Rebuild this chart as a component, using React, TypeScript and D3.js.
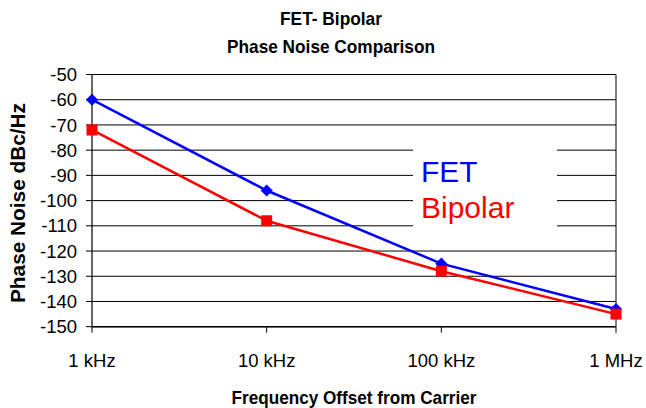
import React from "react";
import * as d3 from "d3";

const categories = ["1 kHz", "10 kHz", "100 kHz", "1 MHz"];
const fetValues = [-60, -96, -125, -143];
const bipolarValues = [-72, -108, -128, -145];
const yTicks = [-50, -60, -70, -80, -90, -100, -110, -120, -130, -140, -150];
const titleLines = ["FET- Bipolar", "Phase Noise Comparison"];
const xTitle = "Frequency Offset from Carrier";
const yTitle = "Phase Noise dBc/Hz";
const seriesNames = ["FET", "Bipolar"];

const W = 646;
const H = 408;
const FONT = "'Liberation Sans', Arial, Helvetica, sans-serif";

export default function App() {
  const x = d3.scalePoint<string>().domain(categories).range([92, 616]);
  const y = d3.scaleLinear().domain([-150, -50]).range([326.7, 74.5]);

  const line = d3
    .line<number>()
    .x((_, i) => x(categories[i]) as number)
    .y((d) => y(d));

  return (
    <svg
      width={W}
      height={H}
      style={{ position: "absolute", left: 0, top: 0, background: "#fff" }}
      fontFamily={FONT}
    >
      <rect x={0} y={0} width={W} height={H} fill="#fff" />
      {/* titles */}
      <text x={331} y={25} textAnchor="middle" fontWeight="bold" fontSize={18.5} textLength={102} lengthAdjust="spacingAndGlyphs">
        {titleLines[0]}
      </text>
      <text x={331} y={53} textAnchor="middle" fontWeight="bold" fontSize={18.5} textLength={208} lengthAdjust="spacingAndGlyphs">
        {titleLines[1]}
      </text>

      {/* gridlines */}
      {yTicks.map((t) => (
        <g key={t}>
          <line x1={92} x2={616} y1={y(t)} y2={y(t)} stroke="#000" strokeWidth={1} />
          <line x1={86} x2={92} y1={y(t)} y2={y(t)} stroke="#000" strokeWidth={1} />
          <text x={77} y={y(t)} dy="0.36em" textAnchor="end" fontSize={18.5}>
            {t}
          </text>
        </g>
      ))}
      {/* axes */}
      <line x1={92} x2={92} y1={y(-50)} y2={y(-150)} stroke="#000" strokeWidth={1.2} />
      <line x1={616} x2={616} y1={y(-50)} y2={y(-150)} stroke="#000" strokeWidth={1} />
      <line x1={92} x2={616} y1={y(-150)} y2={y(-150)} stroke="#000" strokeWidth={1.5} />
      {categories.map((c) => (
        <g key={c}>
          <line x1={x(c)} x2={x(c)} y1={y(-150)} y2={y(-150) + 6} stroke="#000" strokeWidth={1} />
          <text x={x(c)} y={367} textAnchor="middle" fontSize={18.5}>
            {c}
          </text>
        </g>
      ))}

      {/* axis titles */}
      <text x={354} y={404} textAnchor="middle" fontWeight="bold" fontSize={19} textLength={245} lengthAdjust="spacingAndGlyphs">
        {xTitle}
      </text>
      <text
        transform="translate(25,203) rotate(-90)"
        textAnchor="middle"
        fontWeight="bold"
        fontSize={19.5}
        textLength={200}
        lengthAdjust="spacingAndGlyphs"
      >
        {yTitle}
      </text>

      {/* legend */}
      <rect x={413} y={138} width={144} height={100} fill="#fff" />
      <text x={421} y={181.7} fontSize={30} fill="#0000FF">
        {seriesNames[0]}
      </text>
      <text x={421} y={218.3} fontSize={30} fill="#FF0000">
        {seriesNames[1]}
      </text>

      {/* series */}
      <path d={line(fetValues) as string} fill="none" stroke="#0000FF" strokeWidth={2.5} />
      <path d={line(bipolarValues) as string} fill="none" stroke="#FF0000" strokeWidth={2.5} />
      {fetValues.map((v, i) => (
        <rect
          key={"f" + i}
          x={-4.3}
          y={-4.3}
          width={8.6}
          height={8.6}
          transform={`translate(${x(categories[i])},${y(v)}) rotate(45)`}
          fill="#0000FF"
        />
      ))}
      {bipolarValues.map((v, i) => (
        <rect
          key={"b" + i}
          x={(x(categories[i]) as number) - 5.5}
          y={y(v) - 5.5}
          width={11}
          height={11}
          fill="#FF0000"
        />
      ))}
    </svg>
  );
}
